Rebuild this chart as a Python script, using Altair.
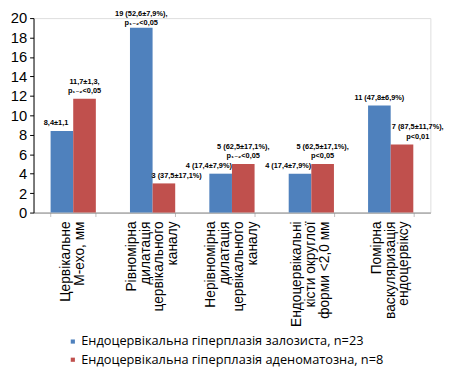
import altair as alt
import pandas as pd

categories = [
    "Цервікальне|М-ехо, мм",
    "Рівномірна|дилатація|цервікального|каналу",
    "Нерівномірна|дилатація|цервікального|каналу",
    "Ендоцервікальні|кісти округлої|форми <2,0 мм",
    "Помірна|васкуляризація|ендоцервіксу",
]
series = [
    "Ендоцервікальна гіперплазія залозиста, n=23",
    "Ендоцервікальна гіперплазія аденоматозна, n=8",
]
values_glandular = [8.4, 19, 4, 4, 11]
values_adenomatous = [11.7, 3, 5, 5, 7]
labels_glandular = [
    "8,4±1,1",
    "19 (52,6±7,9%),\np₁₋₂<0,05",
    "4 (17,4±7,9%)",
    "4 (17,4±7,9%)",
    "11 (47,8±6,9%)",
]
labels_adenomatous = [
    "11,7±1,3,\np₁₋₂<0,05",
    "3 (37,5±17,1%)",
    "5 (62,5±17,1%),\np₁₋₂<0,05",
    "5 (62,5±17,1%),\np<0,05",
    "7 (87,5±11,7%),\np<0,01",
]
# annotation nudges (style)
dx_glandular = [-6, 0, -12, -12, 0]
dx_adenomatous = [0, 13, 0, 0, 16]
gap_glandular = [4, 1, 4, 4, 4]
gap_adenomatous = [4, 4, 4, 4, 4]
colors = ["#4F81BD", "#C0504D"]

ANN_LH = 9.5
CAT_LH = 14
PLOT_LEFT = 26
PLOT_TOP = 7      # padding above plot area
PLOT_H = 198
PLOT_W = 404
# legend placement (pixels, relative to the plot origin)
LEG_SQ_X = 74 - 8 - PLOT_LEFT
LEG_TX_X = 82.6 - 8 - PLOT_LEFT
LEG_ROW_Y = [344.3 - 8 - PLOT_TOP, 362.8 - 8 - PLOT_TOP]

rows = []
for i, c in enumerate(categories):
    rows.append({"cat": c, "series": series[0], "value": values_glandular[i],
                 "label": labels_glandular[i], "dx": dx_glandular[i],
                 "gap": gap_glandular[i], "id": f"g{i}"})
    rows.append({"cat": c, "series": series[1], "value": values_adenomatous[i],
                 "label": labels_adenomatous[i], "dx": dx_adenomatous[i],
                 "gap": gap_adenomatous[i], "id": f"a{i}"})
df = pd.DataFrame(rows)
cat_df = pd.DataFrame({"cat": categories})
leg_df = pd.DataFrame({"series": series})

x_scale = alt.Scale(domain=categories, paddingInner=0.43, paddingOuter=0.215)
x_enc = alt.X(
    "cat:N",
    sort=categories,
    title=None,
    scale=x_scale,
    axis=alt.Axis(
        labels=False,
        tickBand="extent",
        tickSize=4,
        tickColor="#BFBFBF",
        domainColor="#868686",
        domainWidth=1,
    ),
)
xoff = alt.XOffset("series:N", sort=series, scale=alt.Scale(paddingInner=0, paddingOuter=0))
y_enc = alt.Y(
    "value:Q",
    title=None,
    scale=alt.Scale(domain=[0, 20], nice=False),
    axis=alt.Axis(
        values=list(range(0, 21, 2)),
        labelOverlap=False,
        labelFont="Liberation Sans",
        labelFontSize=15,
        labelColor="#000000",
        labelPadding=3,
        tickSize=4,
        tickColor="#000000",
        domainColor="#000000",
        grid=False,
    ),
)
color_enc = alt.Color(
    "series:N",
    sort=series,
    scale=alt.Scale(domain=series, range=colors),
    legend=None,
)

bars = alt.Chart(df).mark_bar().encode(
    x=x_enc,
    xOffset=xoff,
    y=y_enc,
    color=color_enc,
)

layers = [bars]
for r in rows:
    n = r["label"].count("\n") + 1
    t = alt.Chart(df).transform_filter(alt.datum.id == r["id"]).mark_text(
        font="Liberation Sans, DejaVu Sans, sans-serif",
        fontSize=7.5,
        fontWeight="bold",
        color="#000000",
        baseline="bottom",
        align="center",
        lineBreak="\n",
        lineHeight=ANN_LH,
        dy=-r["gap"] - (n - 1) * ANN_LH,
        dx=r["dx"],
    ).encode(
        x=x_enc,
        xOffset=xoff,
        y=y_enc,
        text="label:N",
    )
    layers.append(t)

for c in categories:
    n = c.count("|") + 1
    t = alt.Chart(cat_df).transform_filter(alt.datum.cat == c).mark_text(
        font="Liberation Sans",
        fontSize=14,
        color="#000000",
        angle=270,
        align="right",
        baseline="middle",
        lineBreak="|",
        lineHeight=CAT_LH,
        dy=-(n - 1) / 2 * CAT_LH,
    ).encode(
        x=x_enc,
        y=alt.value(PLOT_H + 9),
        text="cat:N",
    )
    layers.append(t)

# legend drawn as marks
for i, s in enumerate(series):
    sq = alt.Chart(leg_df).transform_filter(alt.datum.series == s).mark_square(
        size=18, opacity=1
    ).encode(
        x=alt.value(LEG_SQ_X),
        y=alt.value(LEG_ROW_Y[i]),
        color=color_enc,
    )
    tx = alt.Chart(leg_df).transform_filter(alt.datum.series == s).mark_text(
        font="Open Sans",
        fontSize=13,
        color="#000000",
        align="left",
        baseline="middle",
    ).encode(
        x=alt.value(LEG_TX_X),
        y=alt.value(LEG_ROW_Y[i]),
        text="series:N",
    )
    layers += [sq, tx]

chart = alt.layer(*layers).properties(
    width=PLOT_W,
    height=PLOT_H,
    autosize=alt.AutoSizeParams(type="none"),
    padding={"left": PLOT_LEFT, "top": PLOT_TOP, "right": 21,
             "bottom": 363 - PLOT_TOP - PLOT_H},
).configure_view(stroke=None).configure(background="white")

chart.save("out.html", embed_options={"renderer": "svg", "actions": False})
